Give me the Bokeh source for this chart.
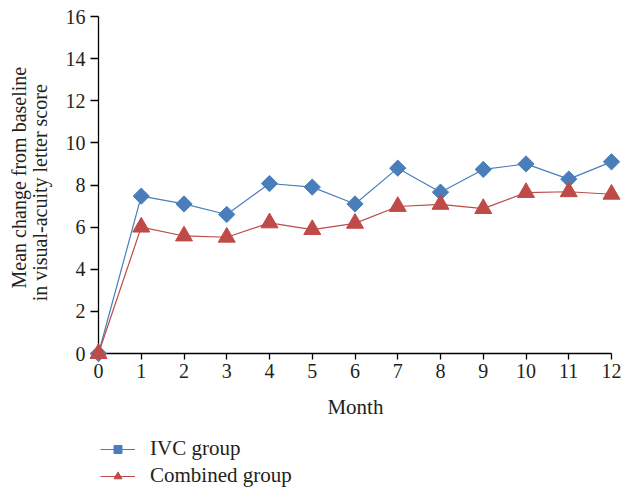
import numpy as np
from bokeh.plotting import figure
from bokeh.layouts import column
from bokeh.models import Range1d, FixedTicker, Legend, LegendItem, ColumnDataSource
from bokeh.core.properties import value
from bokeh.embed import file_html
from bokeh.resources import INLINE

months = list(range(13))
ivc = [0, 7.47, 7.1, 6.6, 8.07, 7.9, 7.1, 8.8, 7.66, 8.74, 9.0, 8.28, 9.1]
combined = [0, 6.0, 5.58, 5.52, 6.2, 5.88, 6.18, 6.98, 7.08, 6.88, 7.64, 7.68, 7.56]
x_ticks = list(range(13))
y_ticks = list(range(0, 17, 2))
series_names = ["IVC group", "Combined group"]
x_title = "Month"
y_title = ["Mean change from baseline", "in visual-acuity letter score"]

BLUE = "#4a7ebb"
RED = "#be4b48"
TXT = "#231f20"
FONT = "Liberation Serif"

p = figure(width=621, height=430, output_backend="svg", toolbar_location=None,
           x_range=Range1d(0, 12), y_range=Range1d(0, 16),
           min_border_left=98, min_border_right=10, min_border_top=16, min_border_bottom=77)
p.outline_line_color = None
p.xgrid.visible = False
p.ygrid.visible = False

src = ColumnDataSource(dict(m=months, ivc=ivc, comb=combined))


def draw_series(fig, level):
    a = fig.line("m", "ivc", source=src, line_color=BLUE, line_width=1.2, level=level)
    b = fig.scatter("m", "ivc", source=src, marker="square", angle=np.pi / 4, size=11.5,
                    fill_color=BLUE, line_color=BLUE, level=level)
    c = fig.line("m", "comb", source=src, line_color=RED, line_width=1.2, level=level)
    d = fig.scatter("m", "comb", source=src, marker="triangle", size=17,
                    fill_color=RED, line_color=RED, level=level)
    return a, b, c, d


draw_series(p, "overlay")

for ax, ticks in ((p.xaxis[0], x_ticks), (p.yaxis[0], y_ticks)):
    ax.ticker = FixedTicker(ticks=ticks)
    ax.axis_line_color = "black"
    ax.axis_line_width = 1.3
    ax.major_tick_line_color = "black"
    ax.major_tick_line_width = 1.3
    ax.major_tick_in = 0
    ax.minor_tick_line_color = None
    ax.major_label_text_font = FONT
    ax.major_label_text_font_size = "20px"
    ax.major_label_text_color = TXT

p.xaxis.major_tick_out = 6
p.yaxis.major_tick_out = 8
p.xaxis.major_label_standoff = 4
p.yaxis.major_label_standoff = 5

# axis titles as unclipped text glyphs placed outside the frame
text_kw = dict(text_font=value(FONT), text_color=TXT, text_align="center",
               text_baseline="middle", level="overlay")
p.text(x=[6.01], y=[-2.52], text=[x_title], text_font_size="21px", **text_kw)
p.text(x=[-1.86, -1.36], y=[8.35, 7.63], text=y_title, angle=np.pi / 2,
       text_font_size="20px", **text_kw)

# legend in its own strip below the chart; its series lie outside this strip's ranges
lg = figure(width=621, height=60, output_backend="svg", toolbar_location=None,
            x_range=Range1d(-20, -19), y_range=Range1d(-20, -19),
            x_axis_location=None, y_axis_location=None,
            min_border_left=0, min_border_right=0, min_border_top=0, min_border_bottom=0)
lg.outline_line_color = None
lg.xgrid.visible = False
lg.ygrid.visible = False
k1, m1, k2, m2 = draw_series(lg, "glyph")

legend = Legend(items=[LegendItem(label=series_names[0], renderers=[k1, m1]),
                       LegendItem(label=series_names[1], renderers=[k2, m2])],
                location=(2, 2))
legend.label_text_font = FONT
legend.label_text_font_size = "21px"
legend.label_text_color = TXT
legend.glyph_width = 35
legend.glyph_height = 20
legend.label_height = 20
legend.spacing = 2
legend.border_line_color = None
legend.background_fill_alpha = 0
legend.margin = 0
legend.padding = 0
legend.label_standoff = 15
lg.add_layout(legend)

layout = column(p, lg, spacing=0)
open("out.html", "w").write(file_html(layout, INLINE))
